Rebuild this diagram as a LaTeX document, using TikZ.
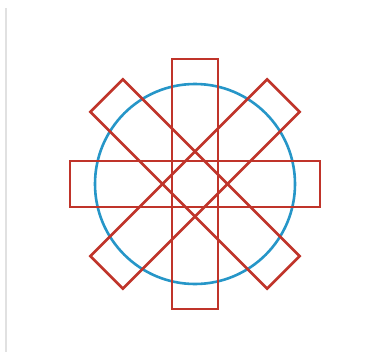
\documentclass[tikz,border=0pt]{standalone}
\begin{document}
\begin{tikzpicture}[x=1bp,y=-1bp,
  bar/.style={draw=barred, line width=2.6bp, line join=miter},
  ring/.style={draw=ringblue, line width=2.6bp}]
\definecolor{barred}{RGB}{192,52,42}
\definecolor{ringblue}{RGB}{38,150,200}
\definecolor{edgegray}{RGB}{225,225,225}
\useasboundingbox (0,0) rectangle (372,360);
\fill[white] (0,0) rectangle (372,360);
\draw[edgegray, line width=1.2bp] (6,8) -- (6,352);
\coordinate (c) at (195,184);
\draw[ring] (c) circle[radius=100];
\foreach \a in {0,45,90,135}{
  \draw[bar, rotate around={\a:(c)}] (70,161) rectangle (320,207);
}
\end{tikzpicture}
\end{document}
